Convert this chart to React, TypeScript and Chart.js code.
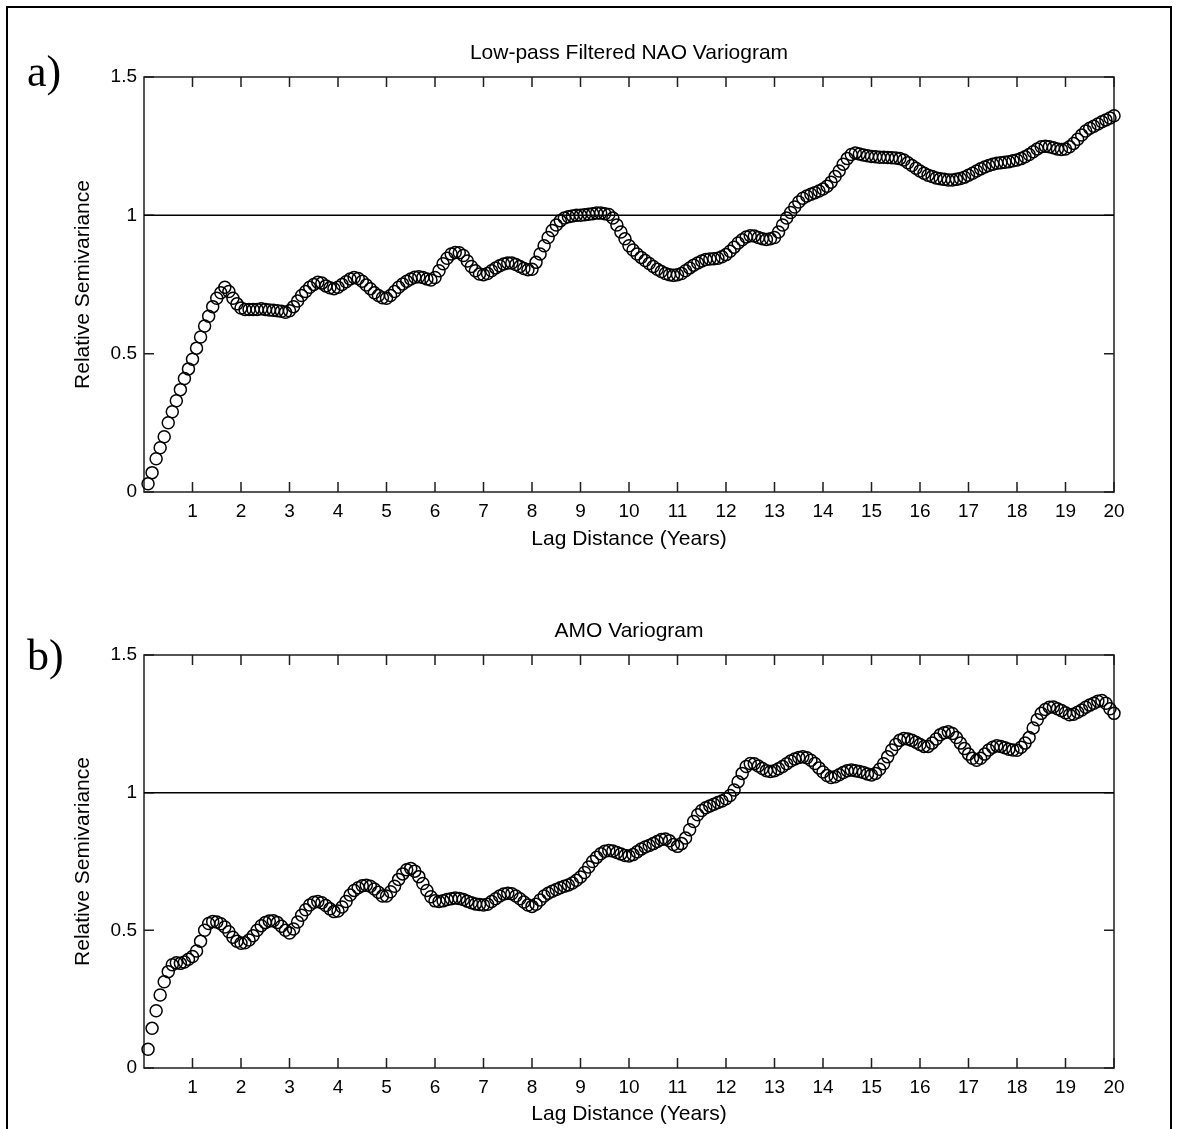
import React, { useEffect, useRef } from "react";
import { Chart, registerables } from "chart.js";

Chart.register(...registerables);

// Lag in months, converted to years on the x axis (monthly lags 1..240)
const MONTHS_PER_YEAR = 12;

// Panel a) Low-pass filtered NAO relative semivariance, one row per lag year
const NAO_VALUES = [
  0.03, 0.07, 0.12, 0.16, 0.2, 0.25, 0.29, 0.33, 0.37, 0.41, 0.445, 0.48,
  0.52, 0.56, 0.6, 0.635, 0.67, 0.7, 0.72, 0.74, 0.725, 0.7, 0.68, 0.665,
  0.66, 0.66, 0.66, 0.66, 0.662, 0.66, 0.658, 0.657, 0.655, 0.653, 0.65, 0.655,
  0.67, 0.69, 0.71, 0.725, 0.74, 0.75, 0.758, 0.755, 0.745, 0.738, 0.735, 0.74,
  0.75, 0.76, 0.77, 0.775, 0.772, 0.762, 0.748, 0.735, 0.72, 0.71, 0.702, 0.7,
  0.71, 0.725, 0.74, 0.752, 0.762, 0.77, 0.776, 0.778, 0.775, 0.77, 0.766, 0.775,
  0.8, 0.825, 0.845, 0.86, 0.866, 0.865, 0.855, 0.835, 0.815, 0.8, 0.788, 0.785,
  0.79, 0.8, 0.81, 0.818, 0.824, 0.828, 0.828, 0.822, 0.815, 0.808, 0.803, 0.805,
  0.83, 0.86, 0.89, 0.92, 0.945, 0.965, 0.98, 0.99, 0.995, 0.998, 1.0, 1.0,
  1.002, 1.004, 1.006, 1.008, 1.008, 1.006, 1.003, 0.99, 0.965, 0.94, 0.915, 0.89,
  0.875, 0.86, 0.848, 0.837, 0.826, 0.815, 0.805, 0.797, 0.79, 0.785, 0.783, 0.785,
  0.79, 0.8, 0.81, 0.82, 0.828, 0.835, 0.84, 0.842, 0.843, 0.845, 0.85, 0.858,
  0.87, 0.885, 0.9, 0.912, 0.922, 0.926, 0.925, 0.92, 0.915, 0.913, 0.915, 0.92,
  0.94, 0.965, 0.99, 1.01, 1.03, 1.048, 1.062, 1.07, 1.076, 1.082, 1.088, 1.095,
  1.105, 1.12, 1.14, 1.16, 1.185, 1.205, 1.22, 1.225, 1.222, 1.218, 1.215, 1.213,
  1.212, 1.21, 1.21, 1.209, 1.208, 1.207, 1.205, 1.2, 1.19, 1.18, 1.17, 1.16,
  1.152, 1.145, 1.14, 1.135, 1.132, 1.13, 1.128, 1.128, 1.13, 1.133, 1.138, 1.145,
  1.152, 1.16, 1.168, 1.175, 1.18, 1.185, 1.188, 1.19, 1.192, 1.194, 1.197, 1.2,
  1.205, 1.212, 1.22, 1.23, 1.24, 1.248, 1.25, 1.248, 1.244, 1.24, 1.238, 1.24,
  1.248, 1.26, 1.275, 1.29, 1.305, 1.315, 1.322, 1.33, 1.338, 1.345, 1.352, 1.36,
];

// Panel b) AMO relative semivariance, one row per lag year
const AMO_VALUES = [
  0.068, 0.144, 0.208, 0.265, 0.313, 0.35, 0.375, 0.382, 0.38, 0.385, 0.395, 0.405,
  0.425, 0.46, 0.5, 0.525, 0.532, 0.53, 0.524, 0.512, 0.495, 0.475, 0.46, 0.453,
  0.455, 0.465, 0.48, 0.5, 0.517, 0.528, 0.534, 0.535, 0.528, 0.515, 0.5, 0.49,
  0.505, 0.53, 0.555, 0.575, 0.592, 0.602, 0.605, 0.6, 0.59, 0.578, 0.568, 0.57,
  0.585, 0.605, 0.628, 0.645, 0.655, 0.662, 0.664, 0.66, 0.65, 0.638, 0.625, 0.625,
  0.64, 0.66, 0.685, 0.705, 0.72, 0.725, 0.715, 0.695, 0.67, 0.645, 0.622, 0.607,
  0.605, 0.607, 0.612, 0.615, 0.617, 0.616, 0.612, 0.606, 0.6, 0.596, 0.594, 0.592,
  0.595, 0.605, 0.615, 0.625, 0.632, 0.635, 0.633, 0.625, 0.615, 0.603, 0.592, 0.587,
  0.595, 0.61, 0.625, 0.635, 0.642, 0.648, 0.655, 0.66, 0.665, 0.672, 0.682, 0.694,
  0.71, 0.73, 0.75, 0.765, 0.778, 0.787, 0.79, 0.788, 0.783, 0.777, 0.772, 0.77,
  0.775, 0.785, 0.795, 0.803, 0.808, 0.815, 0.823, 0.83, 0.832, 0.825, 0.812, 0.805,
  0.815, 0.835, 0.865, 0.895, 0.92, 0.935, 0.945, 0.952, 0.958, 0.964, 0.97, 0.978,
  0.99, 1.01, 1.04, 1.07, 1.095, 1.106, 1.105, 1.097, 1.088, 1.08, 1.077, 1.08,
  1.087, 1.095, 1.105, 1.115, 1.122, 1.128, 1.13, 1.127, 1.118, 1.106, 1.09, 1.075,
  1.062, 1.055, 1.058, 1.065, 1.073, 1.08, 1.082, 1.08, 1.077, 1.073, 1.068, 1.064,
  1.07, 1.085, 1.105, 1.13, 1.155, 1.175, 1.19, 1.197, 1.195, 1.19, 1.183, 1.175,
  1.168, 1.168, 1.18, 1.195, 1.21, 1.218, 1.221, 1.215, 1.2, 1.18, 1.16, 1.14,
  1.125, 1.118, 1.125, 1.14, 1.155, 1.165, 1.17, 1.168, 1.163, 1.158, 1.155, 1.154,
  1.165, 1.18, 1.2, 1.235, 1.265, 1.288, 1.302, 1.31, 1.311, 1.305, 1.298, 1.29,
  1.283, 1.285, 1.292, 1.3, 1.31, 1.318, 1.325, 1.332, 1.335, 1.325, 1.305, 1.288,
];

const X_TICKS = [1, 2, 3, 4, 5, 6, 7, 8, 9, 10, 11, 12, 13, 14, 15, 16, 17, 18, 19, 20];
const Y_TICKS = [0, 0.5, 1, 1.5];
const X_MIN = 0;
const X_MAX = 20;
const Y_MIN = 0;
const Y_MAX = 1.5;
const REFERENCE_LEVEL = 1;

const TITLE_A = "Low-pass Filtered NAO Variogram";
const TITLE_B = "AMO Variogram";
const X_LABEL = "Lag Distance (Years)";
const Y_LABEL = "Relative Semivariance";

const SANS = "'Liberation Sans', Arial, Helvetica, sans-serif";
const SERIF = "'Liberation Serif', 'Times New Roman', serif";

const frameTicksPlugin = {
  id: "frameTicks",
  beforeDatasetsDraw(chart: any) {
    const { ctx, chartArea: a, scales } = chart;
    const xs = scales.x;
    const ys = scales.y;
    ctx.save();
    ctx.strokeStyle = "#1e1e1e";
    ctx.lineWidth = 1.5;
    ctx.strokeRect(a.left, a.top, a.right - a.left, a.bottom - a.top);
    ctx.beginPath();
    const TL = 10;
    for (const t of X_TICKS) {
      const px = xs.getPixelForValue(t);
      ctx.moveTo(px, a.bottom);
      ctx.lineTo(px, a.bottom - TL);
      ctx.moveTo(px, a.top);
      ctx.lineTo(px, a.top + TL);
    }
    for (const t of Y_TICKS) {
      const py = ys.getPixelForValue(t);
      ctx.moveTo(a.left, py);
      ctx.lineTo(a.left + TL, py);
      ctx.moveTo(a.right, py);
      ctx.lineTo(a.right - TL, py);
    }
    ctx.stroke();
    ctx.restore();
  },
  afterDraw(chart: any) {
    const title = chart.options.plugins.panelTitle?.text;
    if (!title) return;
    const { ctx, chartArea: a } = chart;
    ctx.save();
    ctx.fillStyle = "#000";
    ctx.font = `21px ${SANS}`;
    ctx.textAlign = "center";
    ctx.textBaseline = "middle";
    ctx.fillText(title, (a.left + a.right) / 2, a.top - 24);
    ctx.restore();
  },
};

function Panel(props: {
  values: number[];
  title: string;
  top: number;
  height: number;
  axisHeight: number;
}) {
  const ref = useRef<HTMLCanvasElement | null>(null);
  const { values, title, top, height, axisHeight } = props;

  useEffect(() => {
    if (!ref.current) return;
    const points = values.map((v, i) => ({ x: (i + 1) / MONTHS_PER_YEAR, y: v }));
    const chart = new Chart(ref.current, {
      type: "scatter",
      data: {
        datasets: [
          {
            data: [
              { x: X_MIN, y: REFERENCE_LEVEL },
              { x: X_MAX, y: REFERENCE_LEVEL },
            ],
            showLine: true,
            borderColor: "#000",
            borderWidth: 1.5,
            pointRadius: 0,
            order: 2,
          } as any,
          {
            data: points,
            showLine: false,
            pointStyle: "circle",
            pointRadius: 6,
            pointBorderWidth: 1.5,
            borderColor: "#000",
            backgroundColor: "rgba(0,0,0,0)",
            clip: false,
            order: 1,
          } as any,
        ],
      },
      options: {
        responsive: false,
        animation: false,
        devicePixelRatio: 1,
        events: [],
        layout: { padding: { left: 0, right: 63, top: 77, bottom: 0 } },
        plugins: {
          legend: { display: false },
          tooltip: { enabled: false },
          title: { display: false },
          panelTitle: { text: title },
        },
        scales: {
          x: {
            type: "linear",
            min: X_MIN,
            max: X_MAX,
            afterBuildTicks: (s: any) => {
              s.ticks = X_TICKS.map((v) => ({ value: v }));
            },
            afterFit: (s: any) => {
              s.height = axisHeight;
            },
            ticks: {
              autoSkip: false,
              maxRotation: 0,
              color: "#000",
              padding: 8,
              font: { family: SANS, size: 19, lineHeight: 1.2 },
              callback: (v: any) => String(v),
            },
            grid: { display: false, drawTicks: false },
            border: { display: false },
            title: {
              display: true,
              text: X_LABEL,
              color: "#000",
              font: { family: SANS, size: 21, lineHeight: 1.2 },
              padding: { top: 0, bottom: 8 },
            },
          },
          y: {
            type: "linear",
            min: Y_MIN,
            max: Y_MAX,
            afterBuildTicks: (s: any) => {
              s.ticks = Y_TICKS.map((v) => ({ value: v }));
            },
            afterFit: (s: any) => {
              s.width = 144;
            },
            ticks: {
              color: "#000",
              padding: 7,
              font: { family: SANS, size: 19, lineHeight: 1.2 },
              callback: (v: any) => String(v),
            },
            grid: { display: false, drawTicks: false },
            border: { display: false },
            title: {
              display: true,
              text: Y_LABEL,
              color: "#000",
              font: { family: SANS, size: 21, lineHeight: 1.2 },
              padding: { top: 71, bottom: 0 },
            },
          },
        },
      } as any,
      plugins: [frameTicksPlugin],
    });
    return () => chart.destroy();
  }, [values, title, axisHeight]);

  return (
    <canvas
      ref={ref}
      width={1177}
      height={height}
      style={{ position: "absolute", left: 0, top, width: 1177, height, display: "block" }}
    />
  );
}

export default function App() {
  return (
    <div
      style={{
        position: "fixed",
        left: 0,
        top: 0,
        width: 1177,
        height: 1129,
        overflow: "hidden",
        background: "#fff",
      }}
    >
      <div
        style={{
          position: "absolute",
          left: 6,
          top: 6,
          width: 1166,
          height: 1140,
          border: "2px solid #000",
          boxSizing: "border-box",
        }}
      />
      <Panel values={NAO_VALUES} title={TITLE_A} top={0} height={560} axisHeight={68} />
      <Panel values={AMO_VALUES} title={TITLE_B} top={578} height={557} axisHeight={67} />
      <div
        style={{
          position: "absolute",
          left: 27,
          top: 50,
          fontFamily: SERIF,
          fontSize: 44,
          lineHeight: 1,
          color: "#000",
        }}
      >
        a)
      </div>
      <div
        style={{
          position: "absolute",
          left: 27,
          top: 634,
          fontFamily: SERIF,
          fontSize: 44,
          lineHeight: 1,
          color: "#000",
        }}
      >
        b)
      </div>
    </div>
  );
}
